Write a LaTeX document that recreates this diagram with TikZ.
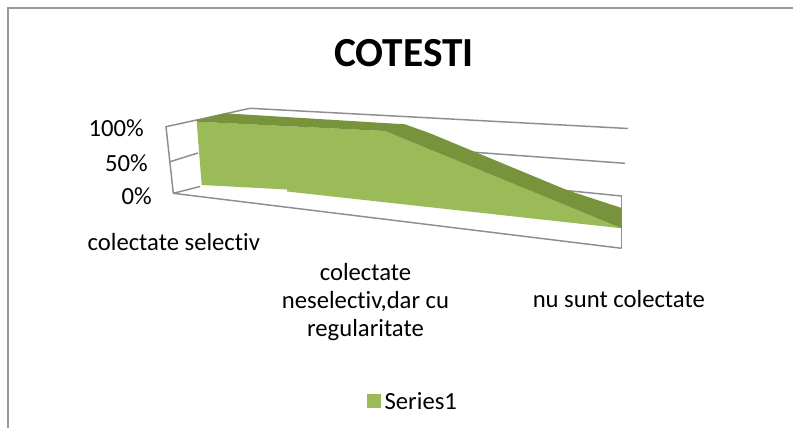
\documentclass[tikz,border=0pt]{standalone}
\usepackage{fontspec}
\setmainfont[Ligatures=NoCommon]{Carlito}
\usepackage{tikz}
\usetikzlibrary{positioning}
\definecolor{areagreen}{HTML}{9BBB59}
\definecolor{areadark}{HTML}{77933C}
\definecolor{gridgray}{HTML}{8E8E8E}

\begin{document}
\begin{tikzpicture}[
    x=0.75pt, y=-0.75pt,
    gridline/.style={draw=gridgray, line width=1.1pt},
    axislabel/.style={font=\fontsize{18.5}{21}\selectfont, inner sep=0pt},
    catlabel/.style={font=\fontsize{18.5}{21}\selectfont, inner sep=0pt, align=center},
    titlelabel/.style={font=\fontsize{31}{36}\selectfont\bfseries, inner sep=0pt, anchor=base},
    legendkey/.style={fill=areagreen, minimum size=10.5pt, inner sep=0pt}
]
\useasboundingbox[fill=white] (0,0) rectangle (793,428);

% Chart border (left and top only)
\draw[draw=gray!80, line width=1.5pt] (8,428) -- (8,8) -- (793,8);

% Title
\node[titlelabel] (title) at (404,66.7) {COTESTI};

% Side wall
\draw[gridline] (173.3,193.3) -- (166,126.7) -- (250,108.3);
\draw[gridline] (170,161.7) -- (198,153);
\draw[gridline] (173.3,193.3) -- (200,186.5);

% Back wall gridlines
\draw[gridline] (250,108.3) -- (628,128.5);
\draw[gridline] (400,146.8) -- (625,163.3);
\draw[gridline] (500,184) -- (621.7,196);
\draw[gridline] (621.7,196) -- (621.7,248.3);

% Floor front edge
\draw[gridline] (173.3,193.3) -- (621.7,248.3);

% Area front face
\fill[areagreen] (196.7,121.7) -- (385,131) -- (621.7,228.3) -- (287,191.5)
    -- (287,189.5) -- (201.7,185) -- cycle;
% Area top ribbon
\fill[areadark] (196.7,120.5) -- (225,113.3) -- (405,124.3) -- (430,133.3)
    -- (568,190.5) -- (621.7,208) -- (621.7,228.3) -- (385,131) -- (196.7,121.7) -- cycle;

% Value axis labels
\node[axislabel, anchor=east] (tick100) at (144,127.7) {100\%};
\node[axislabel, anchor=east] (tick50) at (148,162.7) {50\%};
\node[axislabel, anchor=east] (tick0) at (152,196) {0\%};

% Category labels
\node[catlabel, anchor=base] (catsel) at (173.8,250) {colectate selectiv};
\node[catlabel] (catnesel) at (365.5,302) {colectate\\neselectiv,dar cu\\regularitate};
\node[catlabel, anchor=base] (catnone) at (618.8,307.7) {nu sunt colectate};

% Legend
\node[legendkey] (key) at (373.5,401) {};
\node[axislabel, right=2.7pt of key] (keytext) {Series1};

\end{tikzpicture}
\end{document}
